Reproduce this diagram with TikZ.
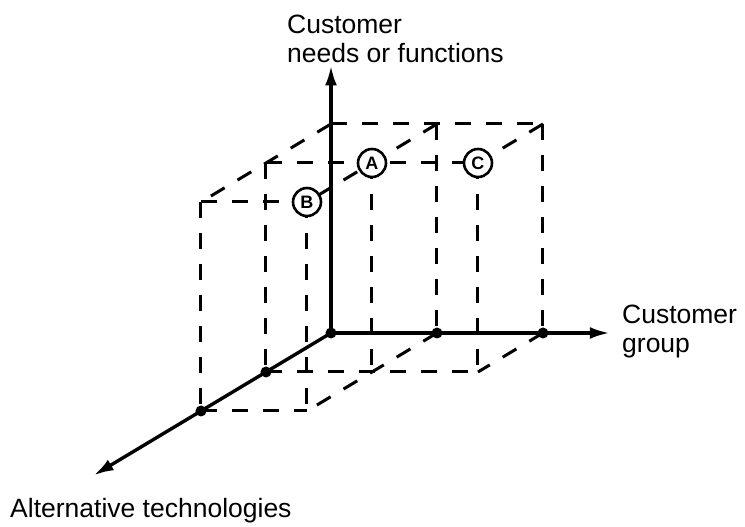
\documentclass[tikz,border=0pt]{standalone}
\usepackage{fontspec}
\setmainfont{Liberation Sans}
\usetikzlibrary{arrows.meta}

\begin{document}
\begin{tikzpicture}[x={(106pt,0pt)}, y={(0pt,209pt)}, z={(-65pt,-39pt)},
  axis/.style={line width=3.4pt, -{Latex[length=20pt,width=12pt]}},
  hidden/.style={line width=3pt, dash pattern=on 16pt off 15pt},
  spot/.style={circle, fill=black, inner sep=0pt, minimum size=11pt},
  cell/.style={circle, draw, fill=white, line width=2.6pt, inner sep=0pt, minimum size=28pt, font=\fontsize{18}{18}\selectfont\bfseries},
  axlabel/.style={inner sep=0pt, anchor=north west, align=left, font=\fontsize{26.5}{29}\selectfont}]
\useasboundingbox (-331pt,-194pt) rectangle (414pt,333pt);

\coordinate (o) at (0,0,0);
\coordinate (gx) at (2.63,0,0);
\coordinate (nf) at (0,1.28,0);
\coordinate (at) at (0,0,3.65);

% top face
\draw[hidden] (0,1,0) -- (2,1,0);
\draw[hidden] (0,1,1) -- (2,1,1);
\draw[hidden] (0,1,2) -- (1,1,2);
\draw[hidden] (0,1,0) -- (0,1,2);
\draw[hidden] (1,1,0) -- (1,1,2);
\draw[hidden] (2,1,0) -- (2,1,1);

% uprights
\draw[hidden] (0,1,1) -- (0,0,1);
\draw[hidden] (0,1,2) -- (0,0,2);
\draw[hidden] (1,1,0) -- (1,0,0);
\draw[hidden] (1,1,1) -- (1,0,1);
\draw[hidden] (1,1,2) -- (1,0,2);
\draw[hidden] (2,1,0) -- (2,0,0);
\draw[hidden] (2,1,1) -- (2,0,1);

% bottom face
\draw[hidden] (0,0,1) -- (2,0,1);
\draw[hidden] (0,0,2) -- (1,0,2);
\draw[hidden] (1,0,0) -- (1,0,2);
\draw[hidden] (2,0,0) -- (2,0,1);

% axes
\draw[axis] (o) -- (gx);
\draw[axis] (o) -- (nf);
\draw[axis] (o) -- (at);

\node[spot] (s0) at (o) {};
\node[spot] (x1) at (1,0,0) {};
\node[spot] (x2) at (2,0,0) {};
\node[spot] (z1) at (0,0,1) {};
\node[spot] (z2) at (0,0,2) {};

\node[cell] (ca) at (1,1,1) {A};
\node[cell] (cb) at (1,1,2) {B};
\node[cell] (cc) at (2,1,1) {C};

\node[axlabel] (needs) at (-44pt,318pt) {Customer\\needs or functions};
\node[axlabel] (group) at (291pt,28pt) {Customer\\group};
\node[axlabel] (tech) at (-321pt,-165pt) {Alternative technologies};
\end{tikzpicture}
\end{document}
